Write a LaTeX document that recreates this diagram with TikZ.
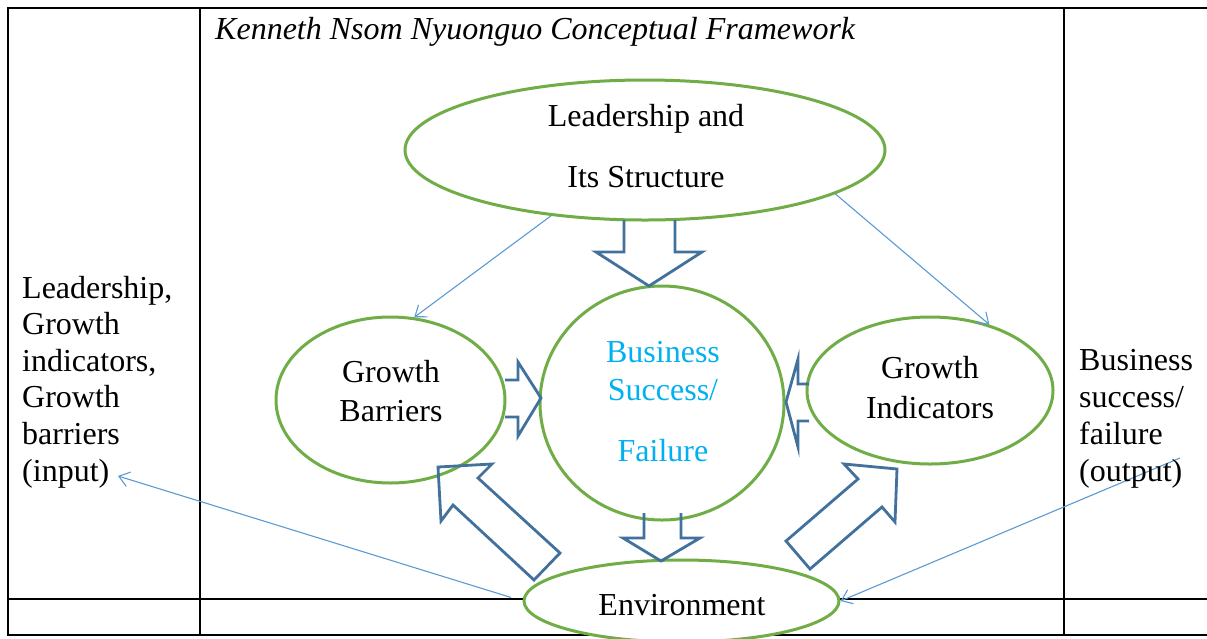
\documentclass[tikz,border=0pt]{standalone}
\usepackage{fontspec}
\setmainfont{Liberation Serif}
\usetikzlibrary{shapes.geometric,arrows.meta}
\definecolor{ellgreen}{RGB}{112,173,71}
\definecolor{blkblue}{RGB}{65,113,156}
\definecolor{thinblue}{RGB}{91,155,213}
\definecolor{txtcyan}{RGB}{0,176,240}
\begin{document}
\begin{tikzpicture}[x=1pt,y=-1pt,
  ell/.style={ellipse,draw=ellgreen,line width=3pt,fill=white,inner sep=0pt},
  blk/.style={draw=blkblue,line width=2.8pt,line join=miter},
  thinarrow/.style={draw=thinblue,line width=1.1pt,-{Straight Barb[length=10pt,width=15pt,line width=1.1pt]}},
  tbl/.style={line width=2.8pt,black},
  lbl/.style={font=\fontsize{32}{36}\selectfont,inner sep=0pt},
  ttl/.style={font=\fontsize{32}{36}\selectfont\itshape,inner sep=0pt}
]
\useasboundingbox (0,0) rectangle (1207,638);
\fill[white] (0,0) rectangle (1207,638);
% table
\draw[tbl] (1210,8) -- (8,8) -- (8,635) -- (1210,635);
\draw[tbl] (8,599) -- (1210,599);
\draw[tbl] (200,8) -- (200,635);
\draw[tbl] (1064,8) -- (1064,635);
% ellipses
\node[ell,minimum width=480pt,minimum height=140pt] (lead) at (645,150) {};
\node[ell,minimum width=244pt,minimum height=234pt] (bs) at (662,403) {};
\node[ell,minimum width=229pt,minimum height=166pt] (gb) at (390.5,400) {};
\node[ell,minimum width=246pt,minimum height=147pt] (gi) at (930,390.5) {};
\node[ell,minimum width=315pt,minimum height=82pt] (env) at (681.5,601) {};
% block arrows
\draw[blk] (624,220) -- (624,252) -- (596,252) -- (649,286) -- (702,252) -- (675,252) -- (675,220);
\draw[blk] (505,380) -- (518,380) -- (518,362) -- (541,398) -- (518,436) -- (518,417) -- (505,417);
\draw[blk] (809,384) -- (798,384) -- (798,359) -- (786,402) -- (798,447) -- (798,421) -- (809,421);
\draw[blk] (644,513) -- (644,538) -- (623,538) -- (661,561) -- (700,538) -- (681,538) -- (681,513);
\draw[blk] (438,467) -- (492,464) -- (478,478) -- (560,553) -- (534,580) -- (453,505) -- (441,521) -- cycle;
\draw[blk] (897,469) -- (844,464) -- (858,479) -- (786,541) -- (810,569) -- (882,507) -- (895,522) -- cycle;
% thin arrows
\coordinate (inp) at (118,476);
\coordinate (outp) at (1180,458);
\draw[thinarrow] (lead.-145) -- (gb.74);
\draw[thinarrow] (lead.-13) -- (gi.48);
\draw[thinarrow,shorten <=12pt] (env.west) -- (inp);
\draw[thinarrow] (outp) -- (env.east);
% texts
\node[ttl,anchor=base west] (title) at (215,39) {Kenneth Nsom Nyuonguo Conceptual Framework};
\node[lbl,anchor=base] (l1) at (646,126) {Leadership and};
\node[lbl,anchor=base] (l2) at (646,187) {Its Structure};
\node[lbl,anchor=base] (b1) at (391,382) {Growth};
\node[lbl,anchor=base] (b2) at (391,421) {Barriers};
\node[lbl,anchor=base] (i1) at (930,378) {Growth};
\node[lbl,anchor=base] (i2) at (930,418) {Indicators};
\node[lbl,anchor=base,text=txtcyan] (s1) at (663,362) {Business};
\node[lbl,anchor=base,text=txtcyan] (s2) at (663,400) {Success/};
\node[lbl,anchor=base,text=txtcyan] (s3) at (663,461) {Failure};
\node[lbl,anchor=base] (e1) at (682,615) {Environment};
\node[lbl,anchor=base west] (in1) at (22,298) {Leadership,};
\node[lbl,anchor=base west] (in2) at (22,334.6) {Growth};
\node[lbl,anchor=base west] (in3) at (22,371.2) {indicators,};
\node[lbl,anchor=base west] (in4) at (22,407.8) {Growth};
\node[lbl,anchor=base west] (in5) at (22,444.4) {barriers};
\node[lbl,anchor=base west] (in6) at (22,481) {(input)};
\node[lbl,anchor=base west] (o1) at (1079,370) {Business};
\node[lbl,anchor=base west] (o2) at (1079,407) {success/};
\node[lbl,anchor=base west] (o3) at (1079,444) {failure};
\node[lbl,anchor=base west] (o4) at (1079,481) {(output)};
\end{tikzpicture}
\end{document}
